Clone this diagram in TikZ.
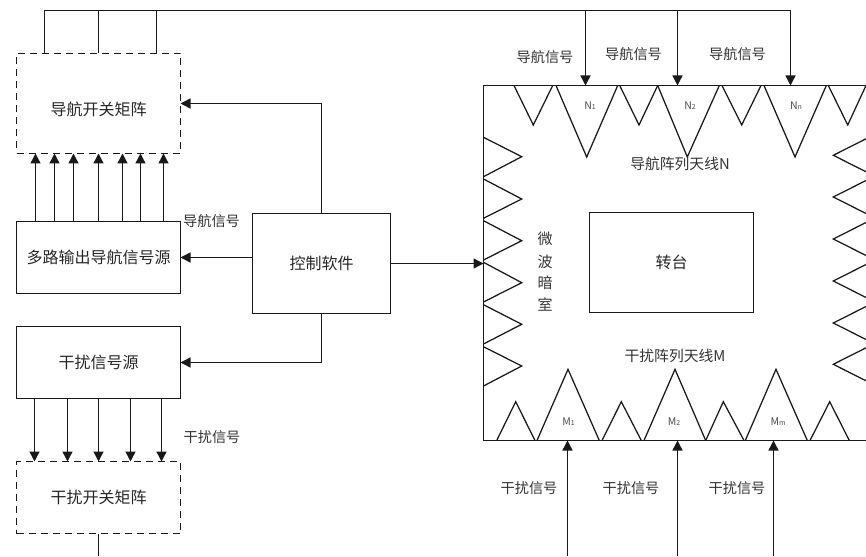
\documentclass[tikz,border=0pt]{standalone}
\usepackage{fontspec}
\setmainfont{Noto Sans CJK SC}
\usetikzlibrary{arrows.meta}
\tikzset{
  line/.style={line width=1.4pt,draw=black!90},
  arr/.style={line,-{Triangle[length=10pt,width=10pt]}},
  boxn/.style={line,inner sep=0pt,outer sep=0pt,font=\fontsize{16}{18}\selectfont,text=black!85},
  solidbox/.style={boxn},
  dashbox/.style={boxn,dash pattern=on 7pt off 5pt},
  lab/.style={inner sep=0pt,font=\fontsize{14.2}{16}\selectfont,text=black!80},
  wlab/.style={inner sep=0pt,font=\fontsize{15}{16}\selectfont,text=black!80},
  tinylab/.style={inner sep=0pt,font=\fontsize{10.5}{12}\selectfont,text=black!70},
  tri/.style={line width=1.25pt,draw=black!90,line join=miter}
}
\newcommand{\subn}[1]{{\fontsize{7}{8}\selectfont #1}}
\begin{document}
\begin{tikzpicture}[x=1pt,y=-1pt]
\useasboundingbox (0,0) rectangle (866,556);
% boxes
\node[dashbox,draw,minimum width=164pt,minimum height=100pt] (navmat) at (98.5,103.5) {\raisebox{-12.5pt}[0pt][0pt]{导航开关矩阵}};
\node[solidbox,draw,minimum width=164pt,minimum height=72pt] (navsrc) at (98.5,257.5) {多路输出导航信号源};
\node[solidbox,draw,minimum width=164pt,minimum height=72pt] (jamsrc) at (98.5,362.5) {干扰信号源};
\node[dashbox,draw,minimum width=164pt,minimum height=72pt] (jammat) at (98.5,497.5) {干扰开关矩阵};
\node[solidbox,draw,minimum width=138pt,minimum height=100pt] (ctrl) at (321.5,263.5) {控制软件};
\node[solidbox,draw,minimum width=164pt,minimum height=100pt] (table) at (671.5,262.5) {转台};
% chamber frame
\coordinate (ctr) at (866,85.5);
\coordinate (ctl) at (483.5,85.5);
\coordinate (cbl) at (483.5,440.5);
\coordinate (cbr) at (866,440.5);
\coordinate (busl) at (44.5,10.5);
\coordinate (busr) at (790.5,10.5);
\coordinate (jamend) at (98.5,556);
\draw[line] (ctr) -- (ctl) -- (cbl) -- (cbr);
% top triangles
\foreach \a/\b/\c in {514/533.3/552.7,619.7/639/657.7,722/741.7/761,828.3/847.7/866}
  \draw[tri] (\a,85.5) -- (\b,125) -- (\c,85.5);
\foreach \a/\b/\c in {556/586.7/617.7,657.7/687.3/719.3,764/795/826.3}
  \draw[tri] (\a,85.5) -- (\b,157) -- (\c,85.5);
% bottom triangles
\foreach \a/\b/\c in {496.7/515.7/535,602/621.3/641.3,705.7/723.3/744,810/829.7/849.3}
  \draw[tri] (\a,440.5) -- (\b,401.7) -- (\c,440.5);
\foreach \a/\b/\c in {537/568/599.3,644/675/705.7,745.3/776/807.3}
  \draw[tri] (\a,440.5) -- (\b,369.3) -- (\c,440.5);
% left triangles
\foreach \a/\b/\c in {137.3/156.7/176.7,179/199/218.3,220.7/240.7/260,262.3/282.7/302,304.7/324.3/344,346.7/366/386}
  \draw[tri] (483.5,\a) -- (521.7,\b) -- (483.5,\c);
% right triangles
\foreach \y in {155.3,197,239,281,323,364.3}
  \draw[tri] (866,\y-16.5) -- (833.3,\y) -- (866,\y+16.5);
% bus
\draw[line] (navmat.north -| busl) -- (busl) -- (busr);
\foreach \x in {98.5,156.5}
  \draw[line] (navmat.north -| \x,0) -- (\x,10.5);
\foreach \x in {585.5,677.5,790.5}
  \draw[arr] (\x,10.5) -- (ctl -| \x,0);
% nav source to nav matrix
\foreach \x in {35.5,54.5,73.5,98.5,122.5,140.5,163.5}
  \draw[arr] (navsrc.north -| \x,0) -- (navmat.south -| \x,0);
% jam source to jam matrix
\foreach \x in {34.5,67.5,98.5,130.5,161.5}
  \draw[arr] (jamsrc.south -| \x,0) -- (jammat.north -| \x,0);
% jam matrix out
\draw[line] (jammat.south) -- (jamend);
\foreach \x in {567.5,677.5,773.5}
  \draw[arr] (\x,556) -- (cbl -| \x,0);
% control links
\draw[arr] (ctrl.north) |- (navmat.east);
\draw[arr] (ctrl.west |- navsrc.east) -- (navsrc.east);
\draw[arr] (ctrl.south) |- (jamsrc.east);
\draw[arr] (ctrl.east) -- (ctrl.east -| ctl);
% labels
\node[lab] (l1) at (545,57) {导航信号};
\node[lab] (l2) at (633.5,54) {导航信号};
\node[lab] (l3) at (737.5,54) {导航信号};
\node[lab] (l4) at (211.5,221.5) {导航信号};
\node[lab] (l5) at (212,437) {干扰信号};
\node[lab] (l6) at (529,488) {干扰信号};
\node[lab] (l7) at (631,488) {干扰信号};
\node[lab] (l8) at (737,488) {干扰信号};
\node[lab,font=\fontsize{14.8}{16}\selectfont] (t1) at (680,164) {导航阵列天线N};
\node[lab,font=\fontsize{14.8}{16}\selectfont] (t2) at (675,356) {干扰阵列天线M};
\node[tinylab] (n1) at (590,106) {N\subn{1}};
\node[tinylab] (n2) at (690,106) {N\subn{2}};
\node[tinylab] (n3) at (796,106) {N\subn{n}};
\node[tinylab] (m1) at (568.5,422) {M\subn{1}};
\node[tinylab] (m2) at (674,422) {M\subn{2}};
\node[tinylab] (m3) at (778,422) {M\subn{m}};
\node[wlab] (w1) at (545,239) {微};
\node[wlab] (w2) at (545,262) {波};
\node[wlab] (w3) at (545,283) {暗};
\node[wlab] (w4) at (545,305) {室};
\end{tikzpicture}
\end{document}
